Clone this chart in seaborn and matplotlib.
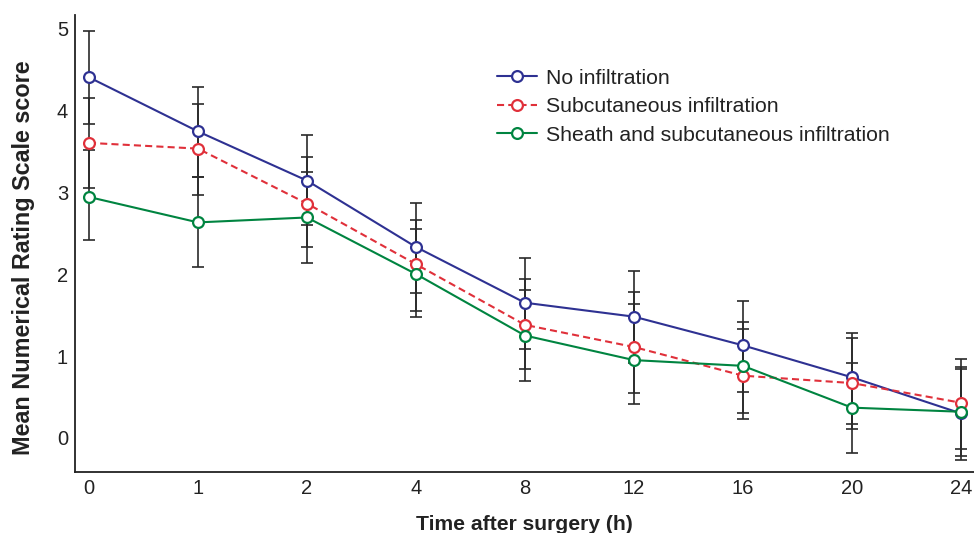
import numpy as np
import pandas as pd
import matplotlib
matplotlib.use("Agg")
import matplotlib.pyplot as plt
from matplotlib.lines import Line2D
import seaborn as sns

# time points (categorical axis)
time_labels = ["0", "1", "2", "4", "8", "12", "16", "20", "24"]

groups = ["No infiltration", "Subcutaneous infiltration",
          "Sheath and subcutaneous infiltration"]

# mean NRS score per group
mean_none = [4.40, 3.74, 3.14, 2.33, 1.65, 1.48, 1.13, 0.74, 0.30]
mean_sub = [3.60, 3.53, 2.86, 2.12, 1.38, 1.11, 0.76, 0.67, 0.43]
mean_sheath = [2.94, 2.63, 2.69, 2.00, 1.25, 0.95, 0.88, 0.37, 0.32]

# upper / lower ends of the error bars
hi_none = [4.97, 4.28, 3.70, 2.87, 2.20, 2.04, 1.67, 1.28, 0.84]
lo_none = [3.83, 3.18, 2.60, 1.77, 1.09, 0.92, 0.56, 0.17, -0.27]
hi_sub = [4.15, 4.07, 3.43, 2.66, 1.94, 1.64, 1.33, 1.22, 0.96]
lo_sub = [3.05, 2.97, 2.33, 1.55, 0.84, 0.55, 0.23, 0.11, -0.13]
hi_sheath = [3.51, 3.18, 3.24, 2.55, 1.81, 1.78, 1.41, 0.91, 0.86]
lo_sheath = [2.41, 2.08, 2.14, 1.47, 0.70, 0.41, 0.31, -0.18, -0.22]

colors = {
    groups[0]: "#2e3192",
    groups[1]: "#e0303a",
    groups[2]: "#008440",
}
dashes = {groups[0]: "", groups[1]: (3.4, 2.0), groups[2]: ""}

means = [mean_none, mean_sub, mean_sheath]
highs = [hi_none, hi_sub, hi_sheath]
lows = [lo_none, lo_sub, lo_sheath]

pos = np.arange(len(time_labels))
df = pd.concat([
    pd.DataFrame({"pos": pos, "score": m, "group": g})
    for g, m in zip(groups, means)
], ignore_index=True)

sns.set_style("white")
plt.rcParams["font.family"] = ["Liberation Sans", "DejaVu Sans"]

fig = plt.figure(figsize=(9.74, 5.33), dpi=100)
ax = fig.add_axes([75 / 974, 61 / 533, 899 / 974, 457 / 533])

# error bars first, in black, under the markers
for m, hi, lo in zip(means, highs, lows):
    m = np.array(m)
    yerr = [m - np.array(lo), np.array(hi) - m]
    ax.errorbar(pos, m, yerr=yerr, fmt="none", ecolor="#2a2a2a",
                elinewidth=1.2, capsize=4.3, capthick=1.2, zorder=1)

n_before = len(ax.lines)
sns.lineplot(data=df, x="pos", y="score", hue="group", style="group",
             palette=colors, dashes=dashes, markers={g: "o" for g in groups},
             markersize=7.8, markerfacecolor="white", markeredgewidth=1.6,
             linewidth=1.5, legend=False, ax=ax, zorder=3)
# seaborn draws white marker edges; use the line colour instead
for line in ax.lines[n_before:]:
    line.set_markeredgecolor(line.get_color())

ax.set_xlim(-0.128, 8.12)
ax.set_ylim(-0.415, 5.16)
ax.set_xticks(pos)
ax.set_xticklabels(time_labels)
ax.set_yticks(range(0, 6))
ax.tick_params(direction="in", length=5, width=1, colors="#222222",
               labelsize=14.5, pad=5)
for side in ["top", "right"]:
    ax.spines[side].set_visible(False)
for side in ["left", "bottom"]:
    ax.spines[side].set_color("#222222")
    ax.spines[side].set_linewidth(1.3)

ax.set_xlabel("Time after surgery (h)", fontsize=15.2, fontweight="bold",
              color="#222222", labelpad=12)
ax.set_ylabel("Mean Numerical Rating Scale score", fontsize=16.8,
              fontweight="bold", color="#222222")
ax.yaxis.set_label_coords(-0.045, 0.469)

handles = [
    Line2D([], [], color=colors[g], linewidth=1.5,
           linestyle=(0, dashes[g]) if dashes[g] else "-",
           marker="o", markersize=7.8, markerfacecolor="white",
           markeredgecolor=colors[g], markeredgewidth=1.6)
    for g in groups
]
ax.legend(handles, groups, loc="upper left", bbox_to_anchor=(488 / 974, 1 - 60 / 533),
          bbox_transform=fig.transFigure, frameon=False, fontsize=15.3,
          handlelength=1.9, handletextpad=0.45, labelspacing=0.45,
          borderaxespad=0, labelcolor="#222222")

fig.savefig("out.png", dpi=100)
